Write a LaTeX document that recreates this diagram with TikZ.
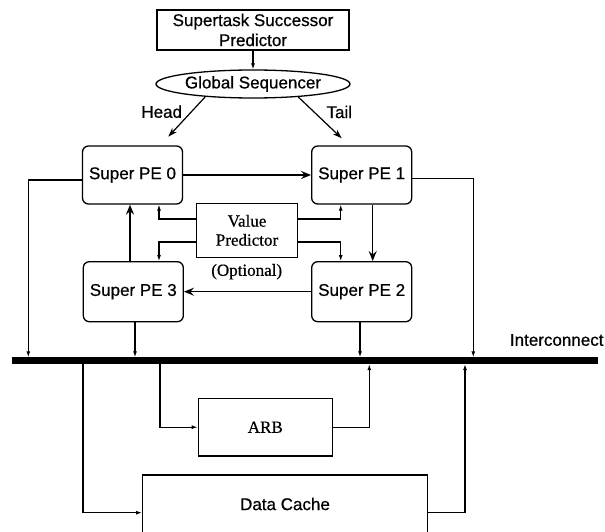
\documentclass[tikz,border=0pt]{standalone}
\usepackage{fontspec}
\setmainfont{Liberation Serif}[FakeBold=0.6]
\setsansfont{Liberation Sans}[FakeBold=0.6]
\usetikzlibrary{shapes.geometric,arrows.meta}

\begin{document}
\begin{tikzpicture}[x=1pt,y=1pt,
  every node/.style={inner sep=0pt, font=\sffamily\fontsize{17}{20}\selectfont},
  plainbox/.style={draw, line width=1.3pt, align=center},
  pebox/.style={plainbox, rounded corners=6pt, minimum width=100pt, minimum height=58pt},
  serif/.style={font=\rmfamily\fontsize{17}{19}\selectfont, align=center},
  wire/.style={line width=1.1pt},
  smalltip/.style={wire, -{Latex[length=6pt,width=4pt]}},
  bigtip/.style={line width=1.5pt, -{Stealth[length=10pt,width=8pt,inset=3.5pt]}},
  midtip/.style={line width=1.2pt, -{Stealth[length=9pt,width=6pt,inset=2.5pt]}}]

\useasboundingbox (0,0) rectangle (605,531);
\clip (0,0) rectangle (605,531);

% sequencing front end
\node[plainbox, minimum width=192pt, minimum height=40pt] (ssp) at (253,501)
  {Supertask Successor\\Predictor};
\node[draw, ellipse, line width=1.3pt, minimum width=194pt, minimum height=28pt] (gs) at (253,447)
  {Global Sequencer};

% processing elements
\node[pebox] (pe0) at (132.5,356) {Super PE 0};
\node[pebox] (pe1) at (361.7,356) {Super PE 1};
\node[pebox, minimum height=60pt] (pe3) at (133.3,239.3) {Super PE 3};
\node[pebox, minimum height=60pt] (pe2) at (361.7,239.3) {Super PE 2};

\node[plainbox, serif, minimum width=100.6pt, minimum height=54pt] (vp) at (247,300.7)
  {Value\\Predictor};
\node[serif] (opt) at (246.7,259.3) {(Optional)};

% interconnect bus
\node[fill=black, minimum width=586.6pt, minimum height=6.5pt] (bus) at (305,170.3) {};
\node (ic) at (556.7,191) {Interconnect};

% memory side
\node[plainbox, serif, minimum width=134pt, minimum height=57.7pt] (arb) at (265.3,103.8) {ARB};
\node[plainbox, minimum width=284.6pt, minimum height=58pt] (dc) at (285,27) {Data Cache};

% vertical guides for the wires
\coordinate (xL) at (28.3,0);
\coordinate (xR) at (473.3,0);
\coordinate (xVL) at (159,0);
\coordinate (xVR) at (340.7,0);
\coordinate (x30) at (130,0);
\coordinate (x12) at (372.7,0);
\coordinate (x3) at (135,0);
\coordinate (x2) at (360,0);
\coordinate (xDC) at (83,0);
\coordinate (xARB) at (160,0);
\coordinate (xAU) at (369.3,0);
\coordinate (xDU) at (465,0);
\coordinate (headend) at (168.3,394.3);
\coordinate (tailend) at (341.7,392.7);

% sequencer
\draw[smalltip] (ssp.south) -- (gs.north);
\draw[midtip] (gs.195) -- (headend);
\draw[midtip] (gs.344) -- (tailend);
\node (head) at (161.7,419.3) {Head};
\node (tail) at (339.3,419) {Tail};

% ring of PEs
\draw[bigtip] (pe0.east) -- (pe1.west);
\draw[bigtip] (pe1.south -| x12) -- (pe2.north -| x12);
\draw[bigtip] (pe2.west) -- (pe3.east);
\draw[bigtip] (pe3.north -| x30) -- (pe0.south -| x30);

% value predictor feeds
\draw[smalltip] ([yshift=11.3pt]vp.west) -| (pe0.south -| xVL);
\draw[smalltip] ([yshift=11.3pt]vp.east) -| (pe1.south -| xVR);
\draw[smalltip] ([yshift=-11.7pt]vp.west) -| (pe3.north -| xVL);
\draw[smalltip] ([yshift=-11.7pt]vp.east) -| (pe2.north -| xVR);

% PEs onto the bus
\draw[smalltip] ([yshift=-5pt]pe0.west) -| (bus.north -| xL);
\draw[smalltip] ([yshift=-3.3pt]pe1.east) -| (bus.north -| xR);
\draw[smalltip] (pe3.south -| x3) -- (bus.north -| x3);
\draw[smalltip] (pe2.south -| x2) -- (bus.north -| x2);

% bus to memory and back
\draw[smalltip] (bus.south -| xARB) |- (arb.west);
\draw[smalltip] (arb.east) -| (bus.south -| xAU);
\draw[smalltip] (bus.south -| xDC) |- ([yshift=-8.7pt]dc.west);
\draw[smalltip] ([yshift=-8.7pt]dc.east) -| (bus.south -| xDU);

\end{tikzpicture}
\end{document}
